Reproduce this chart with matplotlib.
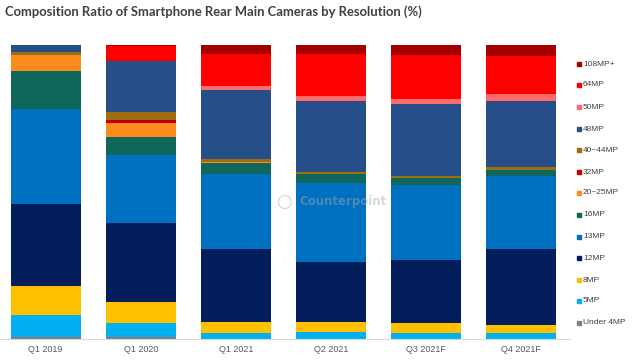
import matplotlib
matplotlib.use("Agg")
import matplotlib.pyplot as plt
from matplotlib.lines import Line2D
import numpy as np

# Quarters on the x axis
quarters = ["Q1 2019", "Q1 2020", "Q1 2021", "Q2 2021", "Q3 2021F", "Q4 2021F"]

# Share (%) of each resolution per quarter
under_4mp = [0.6, 0.4, 0.0, 0.0, 0.0, 0.0]
mp_5 = [7.4, 4.8, 2.0, 2.3, 2.0, 1.8]
mp_8 = [9.9, 7.4, 3.7, 3.4, 3.2, 2.8]
mp_12 = [27.9, 26.8, 24.8, 20.4, 21.6, 25.8]
mp_13 = [32.3, 23.0, 25.6, 26.9, 25.6, 25.1]
mp_16 = [13.2, 6.2, 3.6, 3.0, 2.3, 1.9]
mp_20_25 = [5.3, 4.8, 0.5, 0.0, 0.0, 0.0]
mp_32 = [0.0, 0.9, 0.0, 0.0, 0.0, 0.0]
mp_40_44 = [1.0, 3.0, 1.1, 0.8, 0.8, 0.9]
mp_48 = [2.4, 17.3, 23.2, 24.2, 24.3, 22.7]
mp_50 = [0.0, 0.0, 1.6, 1.7, 1.9, 2.2]
mp_64 = [0.0, 5.1, 10.7, 14.2, 14.8, 13.2]
mp_108 = [0.0, 0.3, 3.3, 3.1, 3.6, 3.6]

# bottom-to-top stacking order
series = [
    ("Under 4MP", under_4mp, "#7f7f7f"),
    ("5MP", mp_5, "#00b0f0"),
    ("8MP", mp_8, "#ffc000"),
    ("12MP", mp_12, "#031e5a"),
    ("13MP", mp_13, "#0070c0"),
    ("16MP", mp_16, "#0f665a"),
    ("20~25MP", mp_20_25, "#fb8c1c"),
    ("32MP", mp_32, "#c00000"),
    ("40~44MP", mp_40_44, "#a06c10"),
    ("48MP", mp_48, "#264f8a"),
    ("50MP", mp_50, "#ff6a6a"),
    ("64MP", mp_64, "#ff0000"),
    ("108MP+", mp_108, "#a50000"),
]

fig = plt.figure(figsize=(6.38, 3.6), dpi=100)
ax = fig.add_axes([0.0, (360 - 338.5) / 360, 570.4 / 638, 293.5 / 360])

x = np.arange(len(quarters))
bottom = np.zeros(len(quarters))
for name, vals, color in series:
    vals = np.array(vals)
    ax.bar(x, vals, bottom=bottom, width=0.735, color=color, linewidth=0)
    bottom += vals

ax.set_xlim(-0.48, 5.52)
ax.set_ylim(0, 100)
ax.set_yticks([])
ax.set_xticks(x)
ax.set_xticklabels(quarters, fontsize=6.5, color="#595959", family="Liberation Sans")
ax.tick_params(axis="x", length=0, pad=5)
for side in ["top", "right", "left"]:
    ax.spines[side].set_visible(False)
ax.spines["bottom"].set_color("#d9d9d9")
ax.spines["bottom"].set_linewidth(0.8)

# title
fig.text(5 / 638, 1 - 12 / 360, "Composition Ratio of Smartphone Rear Main Cameras by Resolution (%)",
         fontsize=9.4, fontweight="bold", color="#404040", family="Lato",
         va="center", ha="left")

# watermark (logo + name)
fig.text(284 / 638, 1 - 202 / 360, "\u25cb", fontsize=13, color="#b0b0b0", alpha=0.6,
         ha="center", va="center", family="DejaVu Sans")
fig.text(343 / 638, 1 - 201 / 360, "Counterpoint", fontsize=8.5, fontweight="bold",
         color="#a8a8a8", alpha=0.45, ha="center", va="center", family="DejaVu Sans")

# legend drawn by hand, top to bottom
legend_y = [64, 85, 107, 129, 150, 172, 193, 215, 237, 258, 280, 301, 323]
for (name, vals, color), ypx in zip(series[::-1], legend_y):
    fy = 1 - ypx / 360
    fig.add_artist(Line2D([579 / 638], [fy], marker="s", markersize=2.8, color=color,
                          linestyle="none", transform=fig.transFigure))
    fig.text(583 / 638, fy, name, fontsize=6, color="#404040", va="center", ha="left",
             family="Liberation Sans")

fig.savefig("out.png", dpi=100)
